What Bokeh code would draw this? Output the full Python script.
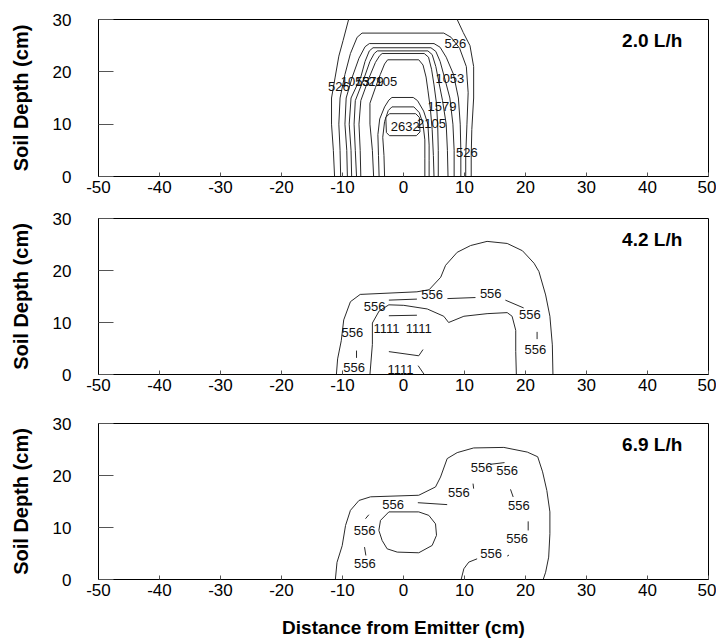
from bokeh.plotting import figure
from bokeh.layouts import column
from bokeh.models import FixedTicker
from bokeh.embed import file_html
from bokeh.resources import INLINE
from bokeh.core.properties import value

FONT = "Liberation Sans"

x_ticks = [-50, -40, -30, -20, -10, 0, 10, 20, 30, 40, 50]
y_ticks = [0, 10, 20, 30]
rate_labels = ["2.0 L/h", "4.2 L/h", "6.9 L/h"]

# ---------------- Panel 1 (2.0 L/h) contour lines ----------------
p1_xs = [
    [-11.3, -11.5, -11.8, -11.8, -11.2, -10.6, -9.9, -9.0],
    [8.8, 9.8, 10.9, 11.5, 11.5, 11.2, 11.1, 11.1],
    [-10.3, -10.4, -10.6, -10.4, -9.6, -8.7, -7.6, -6.8, 6.6, 7.8, 9.2, 10.3, 10.6, 10.4, 10.2, 10.2],
    [-9.2, -9.3, -9.6, -9.4, -8.4, -7.3, -6.3, -5.6, 5.0, 6.0, 7.0, 8.2, 9.0, 9.3, 9.4, 9.4],
    [-8.5, -8.6, -8.9, -8.6, -7.0, -6.3, -5.6, -5.0, 4.5, 5.3, 6.0, 6.7, 7.6, 8.1, 8.3, 8.3],
    [-7.7, -7.9, -8.1, -7.9, -6.4, -5.5, -4.8, -4.3, 4.0, 4.7, 5.3, 5.8, 6.4, 7.0, 7.2, 7.3],
    [-7.0, -7.1, -7.3, -7.0, -5.6, -4.6, -3.9, -3.5, 3.4, 4.1, 4.6, 5.0, 5.4, 5.6, 5.7, 5.7],
    [-4.9, -5.1, -5.5, -5.5, -4.6, -3.8, -3.1, -2.6, 2.5, 3.2, 3.7, 4.0, 4.4, 4.7, 4.9, 5.0],
    [-4.0, -4.1, -4.2, -3.9, -3.1, -2.4, -1.9, 1.6, 2.3, 3.3, 4.0, 4.2, 4.2, 4.2],
    [-3.1, -3.2, -3.4, -3.1, -2.5, -1.9, 1.7, 2.6, 3.2, 3.5, 3.5, 3.5],
    [-2.3, 2.0, 2.6, 2.7, 2.1, -2.3, -2.8, -2.9, -2.3],
]
p1_ys = [
    [0, 5, 10, 15, 19, 23, 26, 30],
    [30, 27.5, 25, 21, 15, 9, 4, 0],
    [0, 5, 10, 15, 19.5, 23.5, 26.6, 27.4, 27.4, 26.6, 24.5, 21, 16, 10, 4, 0],
    [0, 5, 10, 15, 19, 22.6, 24.8, 25.4, 25.4, 24.7, 22.8, 19.5, 15, 10, 5, 0],
    [0, 5, 10, 15, 19, 22, 24.0, 24.6, 24.6, 23.9, 22, 19, 15, 10, 5, 0],
    [0, 5, 10, 14.5, 19, 22, 23.5, 24.0, 24.0, 23.3, 21, 18, 14.5, 10, 5, 0],
    [0, 5, 10, 14.5, 19, 21.8, 23.1, 23.5, 23.5, 22.8, 20.5, 17.5, 14, 10, 5, 0],
    [0, 5, 10, 14, 17, 19.5, 21.5, 22.3, 22.3, 21.3, 19, 16.5, 13, 9, 4, 0],
    [0, 4, 8, 11, 13.3, 14.6, 15.1, 15.1, 14.5, 12.5, 10, 6, 3, 0],
    [0, 4, 7.5, 10.5, 12.6, 13.3, 13.3, 12.2, 10, 7, 3.5, 0],
    [12.0, 12.0, 11.3, 8.5, 7.8, 7.8, 8.4, 11.3, 12.0],
]
p1_label_x = [-10.6, -7.9, -5.6, -3.4, 8.5, 7.6, 6.3, 4.6, 0.3, 10.4]
p1_label_y = [17.2, 18.2, 18.2, 18.2, 25.5, 18.7, 13.4, 10.2, 9.6, 4.6]
p1_label_text = ["526", "1053", "1579", "2105", "526", "1053", "1579", "2105", "2632", "526"]

# ---------------- Panel 2 (4.2 L/h) contour lines ----------------
p2_xs = [
    [-11.0, -10.8, -10.2, -9.8, -8.7, -7.1, 2.2, 4.2, 6.1, 6.9, 8.8, 11.0, 13.7, 17.0, 19.5, 21.4, 22.2, 23.3, 24.0, 24.4, 24.5],
    [-5.5, -5.1, -5.1, -4.0, -2.4, 0.05, 3.9, 6.6, 7.4, 9.9, 13.7, 17.0, 17.8, 18.4, 18.4, 18.5],
    [-2.4, 2.2],
    [7.2, 11.8],
    [16.7, 19.7],
    [21.9, 21.9],
    [-2.4, 2.2],
    [-7.7, -7.7],
    [-2.4, 2.5, 3.2],
    [2.4, 3.4],
]
p2_ys = [
    [0, 3, 6.5, 10.5, 14, 15.4, 15.9, 16.3, 18.7, 21.0, 23.5, 24.8, 25.6, 25.2, 23.8, 21.4, 19.8, 15.3, 11.2, 5.7, 0],
    [0, 5.8, 9.9, 12.2, 13.4, 13.3, 12.6, 11.2, 10.0, 11.2, 11.7, 11.9, 11.2, 8.5, 4.4, 0],
    [14.3, 14.5],
    [14.6, 14.8],
    [14.3, 12.8],
    [8.2, 6.8],
    [11.3, 11.4],
    [4.6, 3.2],
    [4.4, 3.6, 4.8],
    [1.7, 0],
]
p2_label_x = [4.7, 14.3, -4.75, 20.7, -8.4, 21.6, -8.1, -2.8, 2.5, -0.5]
p2_label_y = [15.4, 15.6, 13.1, 11.6, 8.0, 4.8, 1.4, 8.8, 8.8, 0.9]
p2_label_text = ["556", "556", "556", "556", "556", "556", "556", "1111", "1111", "1111"]

# ---------------- Panel 3 (6.9 L/h) contour lines ----------------
p3_xs = [
    [-11.17, -10.9, -10.05, -9.5, -8.7, -7.3, -5.4, 2.5, 5.25, 6.07, 7.16, 8.8, 11.5, 16.45, 20.3, 22.0, 22.8, 23.5, 24.0, 24.0, 23.8, 23.3, 22.9],
    [-2.4, 2.5, 4.15, 5.25, 5.41, 4.7, 2.5, -1.03, -2.68, -3.5, -4.04, -3.77, -2.4],
    [9.45, 9.89, 10.7, 12.07],
    [2.35, 7.16],
    [14.26, 16.56],
    [11.4, 11.5],
    [17.54, 17.98],
    [20.44, 20.44],
    [-6.23, -5.68],
    [-6.39, -6.17],
    [17.0, 17.3],
]
p3_ys = [
    [0, 3.3, 6.5, 10.4, 13.3, 15.2, 15.9, 16.2, 17.8, 19.7, 23.25, 24.4, 25.3, 25.4, 24.5, 23.6, 20.7, 17.1, 13.0, 8.8, 4.3, 1.4, 0],
    [13.0, 13.0, 12.33, 10.7, 8.5, 6.55, 5.14, 5.27, 5.9, 7.5, 9.44, 11.37, 13.0],
    [0, 2.06, 3.34, 3.98],
    [14.77, 14.4],
    [22.16, 22.48],
    [18.44, 17.47],
    [17.34, 15.87],
    [11.18, 9.44],
    [11.69, 12.46],
    [6.23, 4.62],
    [4.5, 4.7],
]
p3_label_x = [12.8, 17.0, 9.07, -1.69, 18.9, -6.39, 18.63, 14.37, -6.34]
p3_label_y = [21.5, 21.0, 16.7, 14.4, 14.26, 9.44, 7.84, 5.07, 3.02]
p3_label_text = ["556"] * 9


def make_panel(title, xs, ys, lx, ly, lt, height, border_top, border_bottom, show_xlabel):
    p = figure(width=716, height=height, x_range=(-50, 50), y_range=(0, 30),
               output_backend="svg", toolbar_location=None,
               min_border_left=98, min_border_right=8,
               min_border_top=border_top, min_border_bottom=border_bottom)
    p.grid.visible = False
    p.outline_line_color = "black"
    p.outline_line_width = 1
    p.background_fill_color = "white"
    p.border_fill_color = "white"

    p.xaxis.ticker = FixedTicker(ticks=x_ticks)
    p.yaxis.ticker = FixedTicker(ticks=y_ticks)
    p.xaxis.major_label_overrides = {t: str(t) for t in x_ticks}
    p.yaxis.major_label_overrides = {t: str(t) for t in y_ticks}
    for ax in (p.xaxis, p.yaxis):
        ax.axis_line_color = "black"
        ax.major_tick_line_color = "#555555"
        ax.minor_tick_line_color = None
        ax.major_tick_out = 0
        ax.major_label_text_font = FONT
        ax.major_label_text_font_size = "17px"
        ax.major_label_text_color = "black"
        ax.axis_label_text_font = FONT
        ax.axis_label_text_font_style = "bold"
        ax.axis_label_text_color = "black"
    p.xaxis.axis_label_text_font_size = "19px"
    p.yaxis.axis_label_text_font_size = "20px"
    p.xaxis.major_tick_in = 4
    p.yaxis.major_tick_in = 15
    p.xaxis.major_label_standoff = 4
    p.yaxis.major_label_standoff = 27
    p.yaxis.axis_label = "Soil Depth (cm)"
    p.yaxis.axis_label_standoff = 18
    if show_xlabel:
        p.xaxis.axis_label = "Distance from Emitter (cm)"
        p.xaxis.axis_label_standoff = 18

    p.multi_line(xs=xs, ys=ys, line_color="#2a2a2a", line_width=1)
    p.text(x=lx, y=ly, text=lt, text_font=value(FONT), text_font_size="13px",
           text_align="center", text_baseline="middle", text_color="#111111")
    p.text(x=[45.7], y=[26], text=[title], text_font=value(FONT),
           text_font_size="19px", text_font_style="bold",
           text_align="right", text_baseline="middle", text_color="black")
    return p


p1 = make_panel(rate_labels[0], p1_xs, p1_ys, p1_label_x, p1_label_y, p1_label_text, 207, 19, 31, False)
p2 = make_panel(rate_labels[1], p2_xs, p2_ys, p2_label_x, p2_label_y, p2_label_text, 205, 11, 38, False)
p3 = make_panel(rate_labels[2], p3_xs, p3_ys, p3_label_x, p3_label_y, p3_label_text, 228, 11, 61, True)

layout = column(p1, p2, p3, spacing=0)
open("out.html", "w").write(file_html(layout, INLINE))
